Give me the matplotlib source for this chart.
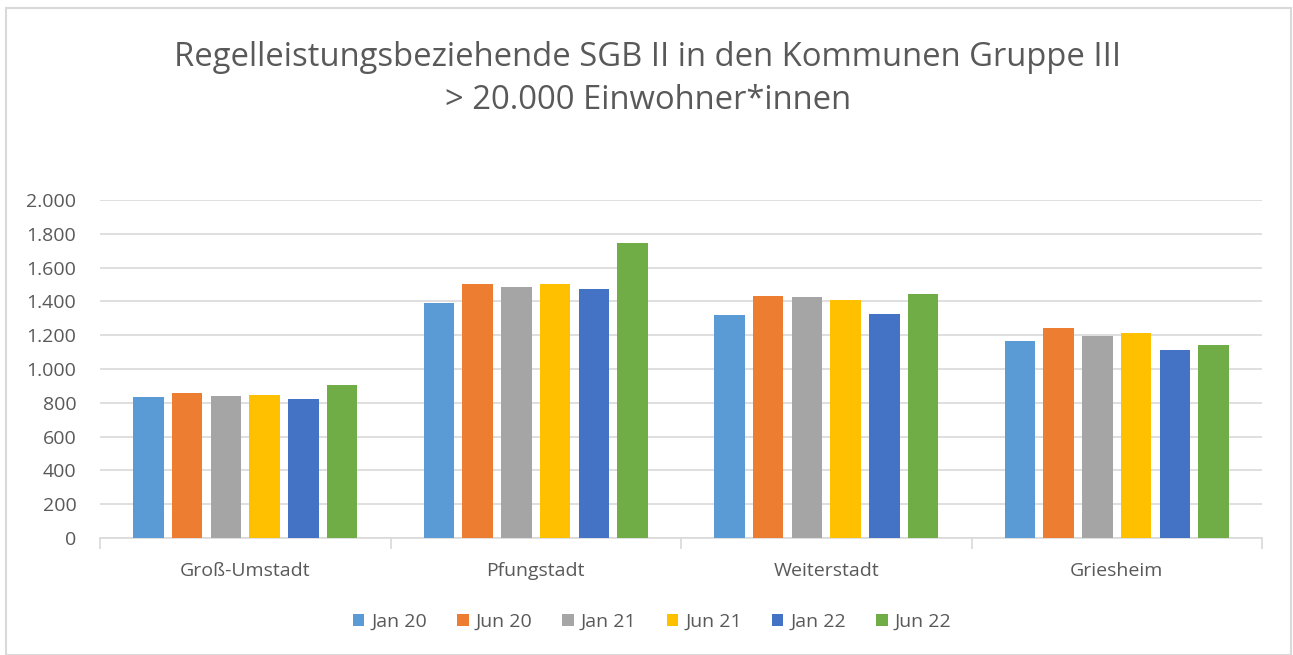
import matplotlib.pyplot as plt
from matplotlib.patches import Rectangle
from matplotlib.ticker import FuncFormatter

communes = ['Groß-Umstadt', 'Pfungstadt', 'Weiterstadt', 'Griesheim']
periods = ['Jan 20', 'Jun 20', 'Jan 21', 'Jun 21', 'Jan 22', 'Jun 22']
jan20 = [833, 1389, 1319, 1167]
jun20 = [860, 1503, 1434, 1244]
jan21 = [838, 1484, 1424, 1196]
jun21 = [846, 1501, 1408, 1212]
jan22 = [821, 1474, 1327, 1110]
jun22 = [908, 1748, 1442, 1143]
series = [jan20, jun20, jan21, jun21, jan22, jun22]
colors = ['#5B9BD5', '#ED7D31', '#A5A5A5', '#FFC000', '#4472C4', '#70AD47']

plt.rcParams['font.family'] = ['Open Sans', 'DejaVu Sans']
text_col = '#595959'
grid_col = '#D9D9D9'

fig = plt.figure(figsize=(12.93, 6.55), dpi=100)
W, H = 1293, 655
ax = fig.add_axes([100 / W, 1 - 538 / H, (1262 - 100) / W, (538 - 200) / H])

step = 0.1333
width = 0.105
for i, (vals, c, lab) in enumerate(zip(series, colors, periods)):
    xs = [k + (i - 2.5) * step for k in range(len(communes))]
    ax.bar(xs, vals, width=width, color=c, label=lab, zorder=3)

ax.set_xlim(-0.5, 3.5)
ax.set_ylim(0, 2000)
ax.set_yticks(range(0, 2001, 200))
ax.yaxis.set_major_formatter(FuncFormatter(lambda v, p: f'{int(v):,}'.replace(',', '.')))
ax.grid(axis='y', color=grid_col, linewidth=1.2, zorder=0)
ax.tick_params(axis='y', length=0, labelsize=14, labelcolor=text_col, pad=17)

ax.set_xticks([k for k in range(len(communes))])
ax.set_xticklabels(communes)
ax.set_xticks([-0.5, 0.5, 1.5, 2.5, 3.5], minor=True)
ax.tick_params(axis='x', which='major', length=0, labelsize=14, labelcolor=text_col, pad=17)
ax.tick_params(axis='x', which='minor', length=8, color=grid_col, width=1.2)

for s in ['top', 'right', 'left']:
    ax.spines[s].set_visible(False)
ax.spines['bottom'].set_color(grid_col)
ax.spines['bottom'].set_linewidth(1.2)

fig.text(648 / W, 1 - 79 / H,
         'Regelleistungsbeziehende SGB II in den Kommunen Gruppe III\n> 20.000 Einwohner*innen',
         ha='center', va='center', fontsize=23.6, color=text_col, linespacing=1.4)

fig.legend(loc='center', bbox_to_anchor=(652 / W, 1 - 622 / H), ncol=6, frameon=False,
           fontsize=14, labelcolor=text_col, handlelength=0.6, handleheight=0.6,
           handletextpad=0.35, columnspacing=1.55)

fig.patches.append(Rectangle((6 / W, 0), (1291 - 6) / W, 1 - 8 / H, transform=fig.transFigure,
                             fill=False, edgecolor=grid_col, linewidth=1.5))

fig.savefig('out.png', dpi=100)
